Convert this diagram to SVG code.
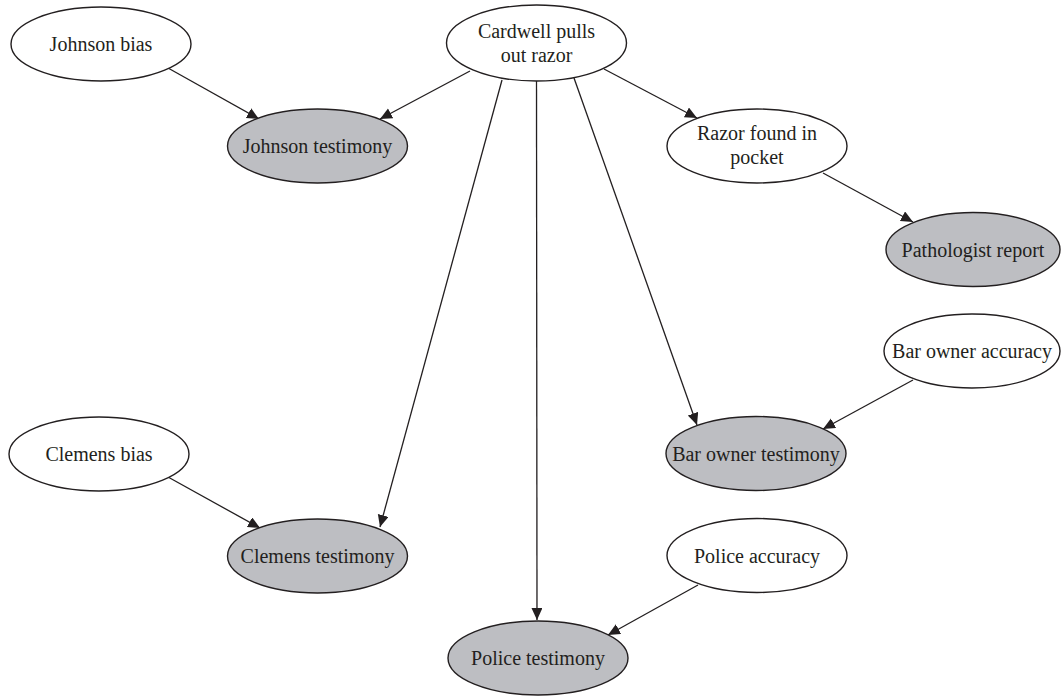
<svg xmlns="http://www.w3.org/2000/svg" width="1061" height="696" viewBox="0 0 1061 696">
<style>
.n ellipse{stroke:#231f20;stroke-width:1.4;fill:#ffffff}
.n.obs ellipse{fill:#bdbec2}
.n text{font-family:"Liberation Serif","Times New Roman",serif;font-size:20px;fill:#231f20;text-anchor:middle}
#edges line{stroke:#231f20;stroke-width:1.3;marker-end:url(#ah)}
</style>
<defs>
<marker id="ah" markerUnits="userSpaceOnUse" markerWidth="14" markerHeight="12" viewBox="0 0 14 12" refX="12" refY="5.5" orient="auto">
<path d="M0,0 L12,5.5 L0,11 z" fill="#231f20"/>
</marker>
</defs>
<rect width="1061" height="696" fill="#ffffff"/>
<g id="edges">
<line x1="168" y1="68" x2="259" y2="119"/>
<line x1="470" y1="71" x2="380" y2="119"/>
<line x1="604" y1="69" x2="697" y2="118"/>
<line x1="823" y1="173" x2="913" y2="222"/>
<line x1="502" y1="80" x2="380" y2="527"/>
<line x1="536.5" y1="81" x2="537" y2="620"/>
<line x1="574" y1="78" x2="697" y2="425"/>
<line x1="913" y1="380" x2="823" y2="429"/>
<line x1="168" y1="477" x2="260" y2="528"/>
<line x1="698" y1="585" x2="608" y2="635"/>
</g>
<g id="johnson-bias" class="n"><ellipse cx="101" cy="44" rx="90" ry="37"/><text x="101" y="51">Johnson bias</text></g>
<g id="cardwell" class="n"><ellipse cx="536.5" cy="43" rx="90" ry="38"/><text x="536.5" y="38">Cardwell pulls</text><text x="536.5" y="62">out razor</text></g>
<g id="johnson-testimony" class="n obs"><ellipse cx="317.5" cy="146" rx="90" ry="37"/><text x="317.5" y="153">Johnson testimony</text></g>
<g id="razor-found" class="n"><ellipse cx="757" cy="146" rx="90" ry="37"/><text x="757" y="140">Razor found in</text><text x="757" y="164">pocket</text></g>
<g id="pathologist-report" class="n obs"><ellipse cx="973" cy="249.5" rx="87" ry="37"/><text x="973" y="256.5">Pathologist report</text></g>
<g id="bar-owner-accuracy" class="n"><ellipse cx="972" cy="351" rx="88" ry="37"/><text x="972" y="358">Bar owner accuracy</text></g>
<g id="bar-owner-testimony" class="n obs"><ellipse cx="756" cy="453.5" rx="90" ry="37"/><text x="756" y="460.5">Bar owner testimony</text></g>
<g id="clemens-bias" class="n"><ellipse cx="99" cy="454" rx="90" ry="37"/><text x="99" y="461">Clemens bias</text></g>
<g id="clemens-testimony" class="n obs"><ellipse cx="317.5" cy="556" rx="90" ry="37"/><text x="317.5" y="563">Clemens testimony</text></g>
<g id="police-accuracy" class="n"><ellipse cx="757" cy="555.5" rx="90" ry="37"/><text x="757" y="562.5">Police accuracy</text></g>
<g id="police-testimony" class="n obs"><ellipse cx="538" cy="658" rx="90" ry="37"/><text x="538" y="665">Police testimony</text></g>
</svg>
